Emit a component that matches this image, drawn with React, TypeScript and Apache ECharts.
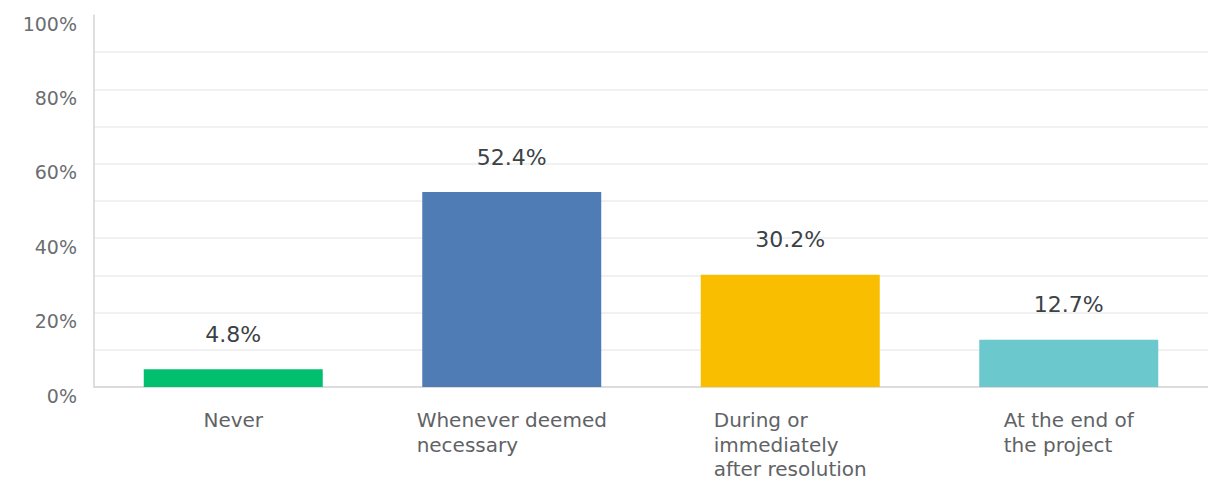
import React, { useEffect, useRef } from "react";
import * as echarts from "echarts";

const categories: string[] = [
  "Never",
  "Whenever deemed\nnecessary",
  "During or\nimmediately\nafter resolution",
  "At the end of\nthe project",
];
const values: number[] = [4.8, 52.4, 30.2, 12.7];
const colors: string[] = ["#00bf6f", "#507cb6", "#f9be00", "#6bc8cd"];

const FONT = "DejaVu Sans";

export default function App() {
  const ref = useRef<HTMLDivElement>(null);
  useEffect(() => {
    document.body.style.margin = "0";
    document.body.style.overflow = "hidden";
    if (!ref.current) return;
    const chart = echarts.init(ref.current, null, { renderer: "svg" });
    chart.setOption({
      animation: false,
      grid: { left: 94, right: 0, top: 15, bottom: 95 },
      xAxis: {
        type: "category",
        data: categories,
        axisLine: { show: true, lineStyle: { color: "#d4d4d4", width: 1.5 } },
        axisTick: { show: false },
        axisLabel: {
          interval: 0,
          margin: 21,
          formatter: (v: string) =>
            v.split("\n").map((l) => `{l|${l}}`).join("\n"),
          rich: {
            l: {
              align: "left",
              fontFamily: FONT,
              fontSize: 20,
              lineHeight: 24.5,
              color: "#5f6366",
            },
          },
        },
      },
      yAxis: {
        type: "value",
        min: 0,
        max: 100,
        interval: 10,
        axisLine: { show: true, lineStyle: { color: "#d4d4d4", width: 1.5 } },
        axisTick: { show: false },
        splitLine: {
          show: true,
          showMaxLine: false,
          lineStyle: { color: "#ececec", width: 1.5 },
        },
        axisLabel: {
          margin: 17,
          fontFamily: FONT,
          fontSize: 19,
          lineHeight: 17,
          color: "#6b6e71",
          verticalAlign: "top",
          formatter: (v: number) => (v % 20 === 0 ? `${v}%` : ""),
        },
      },
      series: [
        {
          type: "bar",
          barWidth: 179,
          data: values.map((v, i) => ({ value: v, itemStyle: { color: colors[i] } })),
          label: {
            show: true,
            position: "top",
            distance: 24,
            fontFamily: FONT,
            fontSize: 22,
            color: "#3b4246",
            formatter: (p: any) => `${p.value}%`,
          },
        },
      ],
    });
    return () => chart.dispose();
  }, []);
  return <div ref={ref} style={{ width: 1208, height: 482 }} />;
}
